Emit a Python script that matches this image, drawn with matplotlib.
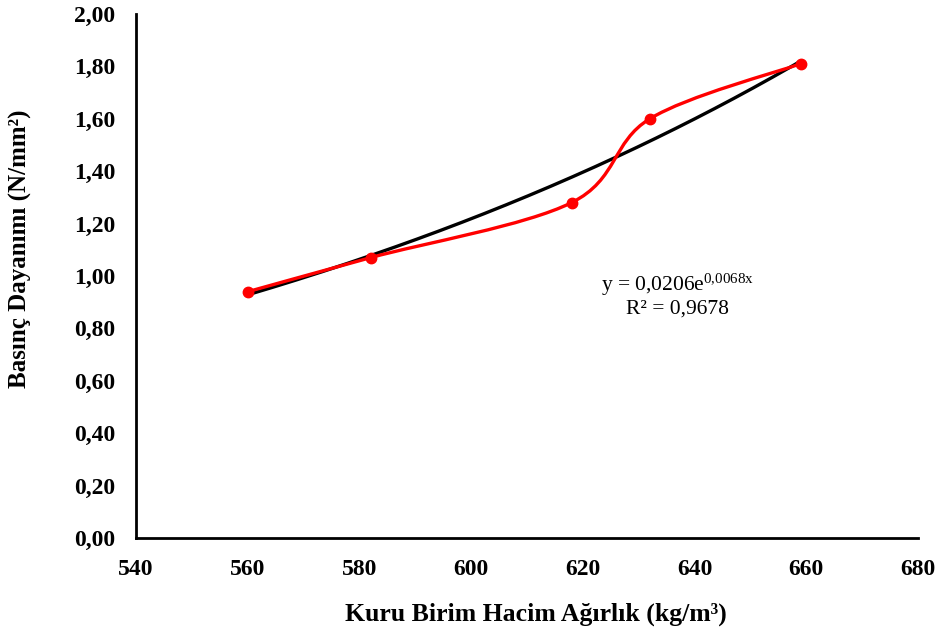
import matplotlib
matplotlib.use('Agg')
import matplotlib.pyplot as plt
from matplotlib.path import Path
from matplotlib.patches import PathPatch
import numpy as np

density = [560, 582, 618, 632, 659]          # kg/m3
strength = [0.94, 1.07, 1.28, 1.60, 1.81]    # N/mm2
trend_a, trend_b = 0.0206, 0.0068
x_ticks = [540, 560, 580, 600, 620, 640, 660, 680]
y_ticks = [0.0, 0.2, 0.4, 0.6, 0.8, 1.0, 1.2, 1.4, 1.6, 1.8, 2.0]

plt.rcParams['font.family'] = ['Liberation Serif', 'DejaVu Serif']
plt.rcParams['mathtext.fontset'] = 'custom'
plt.rcParams['mathtext.rm'] = 'Liberation Serif'
plt.rcParams['mathtext.it'] = 'Liberation Serif:italic'

fig = plt.figure(figsize=(9.41, 6.33), dpi=100)
ax = fig.add_axes([0.1445, 0.150, 0.831, 0.828])

# exponential trendline
tx = np.linspace(density[0], density[-1], 200)
ax.plot(tx, trend_a * np.exp(trend_b * tx), color='black', lw=2.4, zorder=2)

# excel-like smoothed line (catmull-rom -> bezier)
pts = np.column_stack([density, strength]).astype(float)
verts = [tuple(pts[0])]
codes = [Path.MOVETO]
for i in range(len(pts) - 1):
    p0 = pts[i - 1] if i > 0 else pts[i]
    p1, p2 = pts[i], pts[i + 1]
    p3 = pts[i + 2] if i + 2 < len(pts) else pts[i + 1]
    c1 = p1 + (p2 - p0) / 6.0
    c2 = p2 - (p3 - p1) / 6.0
    verts += [tuple(c1), tuple(c2), tuple(p2)]
    codes += [Path.CURVE4] * 3
ax.add_patch(PathPatch(Path(verts, codes), facecolor='none', edgecolor='#ff0000', lw=2.4, zorder=3))
ax.plot(density, strength, 'o', color='#ff0000', ms=7.5, zorder=4)

ax.set_xlim(540, 680)
ax.set_ylim(0, 2.0)
ax.set_xticks(x_ticks)
ax.set_yticks(y_ticks)
ax.set_xticklabels([str(v) for v in x_ticks], fontsize=17, fontweight='bold')
ax.set_yticklabels([f'{v:.2f}'.replace('.', ',') for v in y_ticks], fontsize=17, fontweight='bold')
ax.tick_params(axis='x', length=0, pad=15)
ax.tick_params(axis='y', length=0, pad=15)
for s in ['top', 'right']:
    ax.spines[s].set_visible(False)
for s in ['left', 'bottom']:
    ax.spines[s].set_linewidth(2)

ax.set_xlabel('Kuru Birim Hacim Ağırlık (kg/m³)', fontsize=18.5, fontweight='bold', va='center')
ax.xaxis.set_label_coords(0.512, -0.145)
ax.set_ylabel('Basınç Dayanımı (N/mm²)', fontsize=18, fontweight='bold', va='center')
ax.yaxis.set_label_coords(-0.148, 0.552)

ax.text(637, 0.966, r'y = 0,0206e$^{\mathrm{0{,}0068x}}$', fontsize=15.5, ha='center', va='center')
ax.text(637, 0.874, 'R² = 0,9678', fontsize=15.5, ha='center', va='center')

fig.savefig('out.png', dpi=100)
